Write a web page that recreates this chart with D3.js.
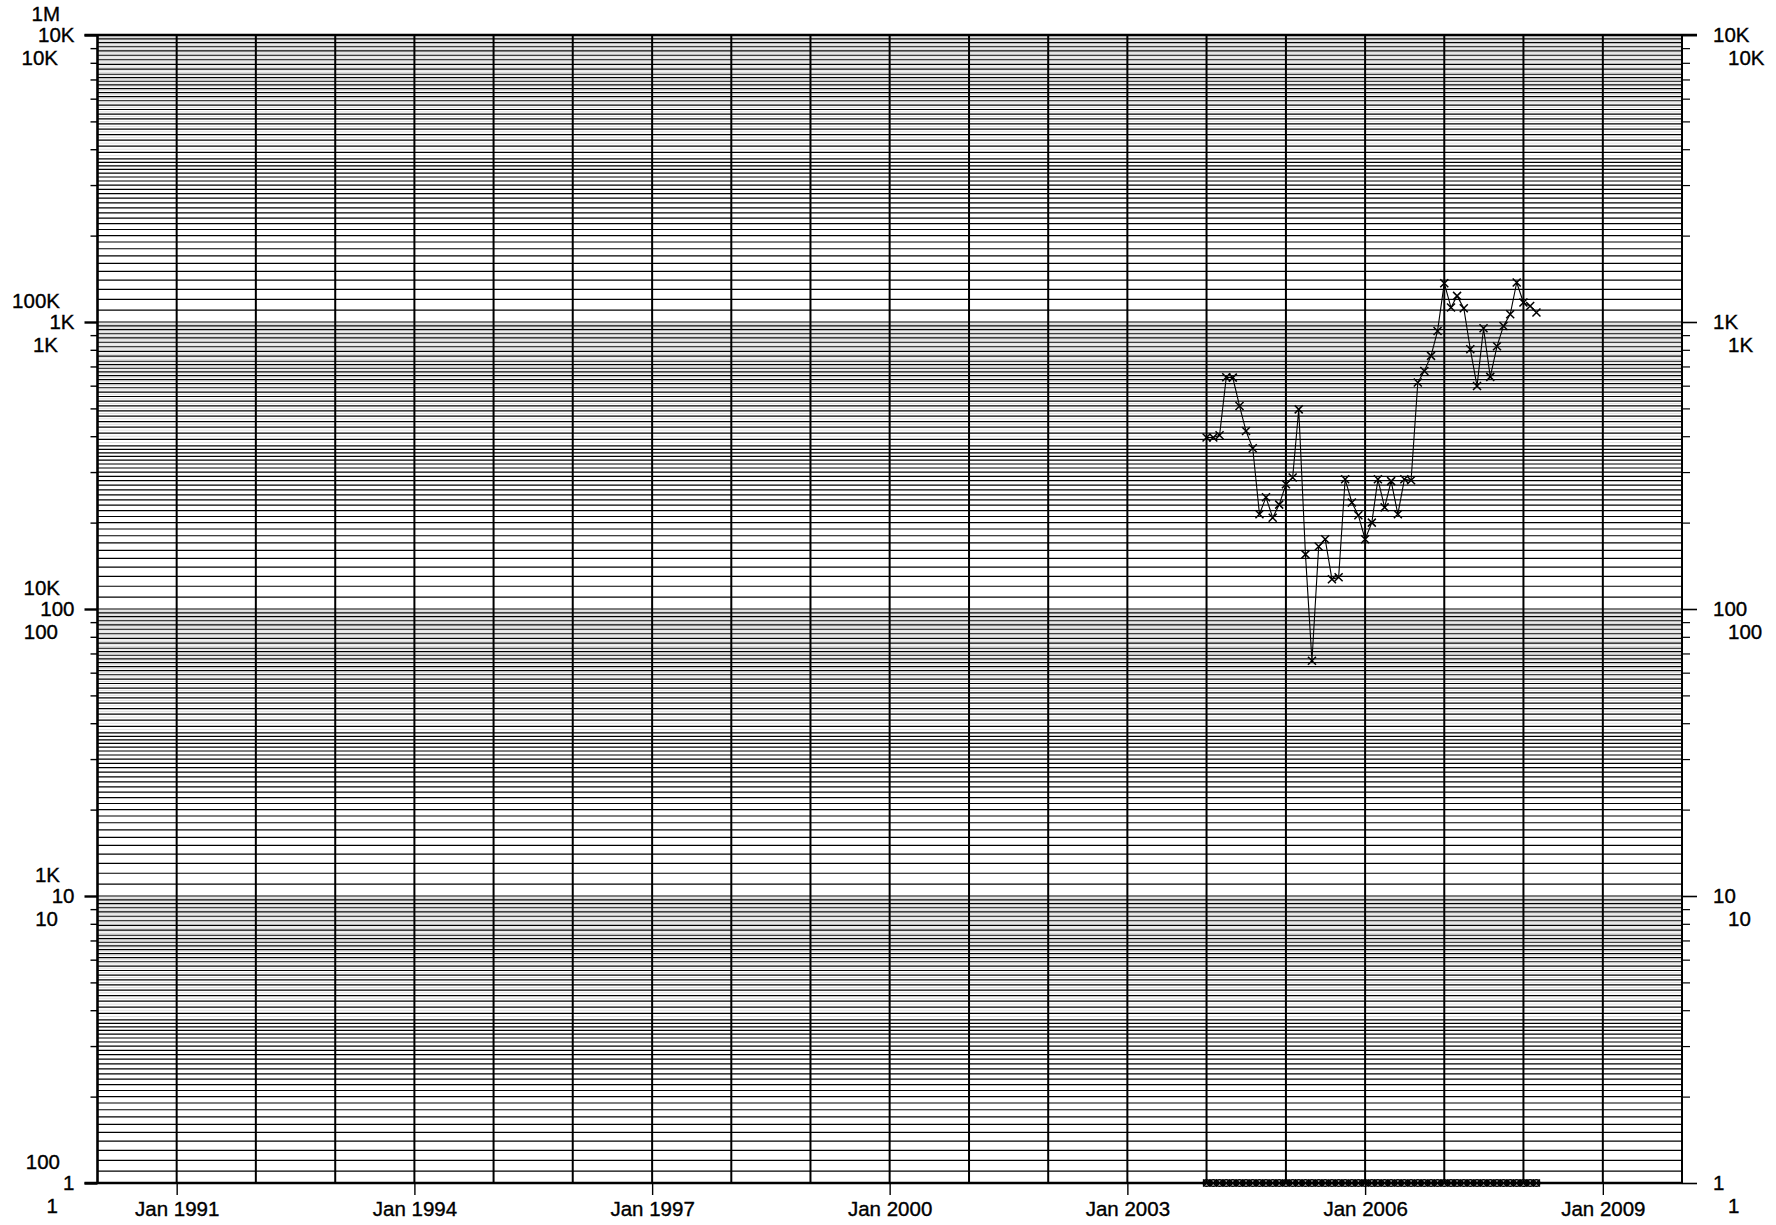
<!DOCTYPE html>
<html>
<head>
<meta charset="utf-8">
<script src="https://cdn.jsdelivr.net/npm/d3@7"></script>
<style>
  html, body { margin: 0; padding: 0; background: #fff; }
  svg { display: block; font-family: "Liberation Sans", Arial, sans-serif; }
</style>
</head>
<body>
<svg id="chart" width="1776" height="1225"></svg>
<script>
// months of the series, Jan 2004 .. Mar 2008
var months = [
  "2004-01","2004-02","2004-03","2004-04","2004-05","2004-06","2004-07","2004-08","2004-09","2004-10","2004-11","2004-12",
  "2005-01","2005-02","2005-03","2005-04","2005-05","2005-06","2005-07","2005-08","2005-09","2005-10","2005-11","2005-12",
  "2006-01","2006-02","2006-03","2006-04","2006-05","2006-06","2006-07","2006-08","2006-09","2006-10","2006-11","2006-12",
  "2007-01","2007-02","2007-03","2007-04","2007-05","2007-06","2007-07","2007-08","2007-09","2007-10","2007-11","2007-12",
  "2008-01","2008-02","2008-03"
];
// upper series (x markers)
var mainVals = [
  396, 396, 403, 642, 640, 510, 417, 363, 214, 245, 208, 231,
  272, 287, 496, 155, 66, 165, 175, 127, 129, 283, 235, 212,
  175, 200, 283, 226, 279, 214, 283, 281, 615, 675, 762, 931,
  1365, 1123, 1233, 1117, 804, 598, 951, 644, 823, 969, 1064, 1373,
  1169, 1137, 1079
];
// lower series sitting on the floor of the axis
var floorVals = [
  1,1,1,1,1,1,1,1,1,1,1,1,
  1,1,1,1,1,1,1,1,1,1,1,1,
  1,1,1,1,1,1,1,1,1,1,1,1,
  1,1,1,1,1,1,1,1,1,1,1,1,
  1,1,1
];

// tick labels
var decadeVals   = [10000, 1000, 100, 10, 1];
var decadeLabels = ["10K", "1K", "100", "10", "1"];
var outerVals    = [1000000, 100000, 10000, 1000, 100];
var outerLabels  = ["1M", "100K", "10K", "1K", "100"];
var xTickYears   = [1991, 1994, 1997, 2000, 2003, 2006, 2009];

var parseMonth = d3.timeParse("%Y-%m");
var svg = d3.select("#chart");

var plotL = 97.5, plotR = 1682, plotT = 35, plotB = 1183;

var x = d3.scaleTime()
  .domain([new Date(1990, 0, 1), new Date(2010, 0, 1)])
  .range([plotL, plotR]);
var y = d3.scaleLog().domain([1, 10000]).range([plotB, plotT]);
// the two extra label sets sit a little above / below the main one
var yOuter = d3.scaleLog().domain([100, 1000000]).range([plotB - 21, plotT - 21]);
var yLow = d3.scaleLog().domain([1, 10000]).range([plotB + 23, plotT + 23]);

// horizontal grid: every tenth step in each decade, thinned where they crowd
var gridVals = [];
for (var n = 0; n < 4; n++) {
  for (var k = 10; k < 100; k++) gridVals.push(k / 10 * Math.pow(10, n));
}
gridVals.push(10000);
var lastY = 1e9, gridKeep = [], gridSkip = [];
gridVals.forEach(function(v) {
  var yy = y(v);
  var isDecade = Math.abs(Math.log10(v) - Math.round(Math.log10(v))) < 1e-9;
  if (isDecade || lastY - yy >= 3.4) { gridKeep.push(v); lastY = yy; }
  else gridSkip.push(v);
});

var grid = svg.append("g").attr("class", "grid");
grid.selectAll("line.s").data(gridSkip).enter().append("line")
  .attr("class", "s")
  .attr("x1", plotL).attr("x2", plotR)
  .attr("y1", function(d) { return y(d); })
  .attr("y2", function(d) { return y(d); })
  .attr("stroke", "#aaa")
  .attr("stroke-width", 0.4);
grid.selectAll("line.h").data(gridKeep).enter().append("line")
  .attr("class", "h")
  .attr("x1", plotL).attr("x2", plotR)
  .attr("y1", function(d) { return y(d); })
  .attr("y2", function(d) { return y(d); })
  .attr("stroke", "#000")
  .attr("stroke-width", 1.2);

// yearly vertical grid
grid.selectAll("line.v").data(d3.timeYears(new Date(1990, 0, 1), new Date(2010, 0, 2))).enter().append("line")
  .attr("class", "v")
  .attr("x1", function(d) { return x(d); }).attr("x2", function(d) { return x(d); })
  .attr("y1", plotT).attr("y2", plotB)
  .attr("stroke", "#000")
  .attr("stroke-width", 2);

// frame
svg.append("line").attr("x1", plotL - 13).attr("x2", plotR + 15).attr("y1", plotT).attr("y2", plotT)
  .attr("stroke", "#000").attr("stroke-width", 2.4);
svg.append("line").attr("x1", plotL).attr("x2", plotL).attr("y1", plotT).attr("y2", plotB)
  .attr("stroke", "#000").attr("stroke-width", 2.2);
svg.append("line").attr("x1", plotR).attr("x2", plotR).attr("y1", plotT).attr("y2", plotB)
  .attr("stroke", "#000").attr("stroke-width", 1.6);

function styleAxis(g) {
  g.select(".domain").remove();
  g.selectAll("text").attr("font-size", 20.5).attr("fill", "#000")
    .attr("stroke", "#000").attr("stroke-width", 0.35)
    .attr("font-family", "'Liberation Sans', Arial, sans-serif");
  g.selectAll("line").attr("stroke", "#000");
}

var minorVals = [];
for (var m = 0; m < 4; m++) {
  for (var j = 2; j < 10; j++) minorVals.push(j * Math.pow(10, m));
}

// left axis: minor ticks, main ticks/labels, and the shifted label sets
svg.append("g").attr("transform", "translate(" + plotL + ",0)")
  .call(d3.axisLeft(y).tickValues(minorVals).tickSize(7).tickFormat(""))
  .call(styleAxis).selectAll("line").attr("stroke-width", 1.4);
svg.append("g").attr("transform", "translate(" + plotL + ",0)")
  .call(d3.axisLeft(y).tickValues(decadeVals).tickSize(13).tickPadding(10)
    .tickFormat(function(d, i) { return decadeLabels[i]; }))
  .call(styleAxis).selectAll("line").attr("stroke-width", 2.4);
svg.append("g").attr("transform", "translate(60,0)")
  .call(d3.axisLeft(yOuter).tickValues(outerVals).tickSize(0).tickPadding(0)
    .tickFormat(function(d, i) { return outerLabels[i]; }))
  .call(styleAxis);
svg.append("g").attr("transform", "translate(58,0)")
  .call(d3.axisLeft(yLow).tickValues(decadeVals).tickSize(0).tickPadding(0)
    .tickFormat(function(d, i) { return decadeLabels[i]; }))
  .call(styleAxis);

// right axis
svg.append("g").attr("transform", "translate(" + plotR + ",0)")
  .call(d3.axisRight(y).tickValues(minorVals).tickSize(8).tickFormat(""))
  .call(styleAxis).selectAll("line").attr("stroke-width", 1.2);
svg.append("g").attr("transform", "translate(" + plotR + ",0)")
  .call(d3.axisRight(y).tickValues(decadeVals).tickSize(15).tickPadding(16)
    .tickFormat(function(d, i) { return decadeLabels[i]; }))
  .call(styleAxis).selectAll("line").attr("stroke-width", 1.6);
svg.append("g").attr("transform", "translate(1728,0)")
  .call(d3.axisRight(yLow).tickValues(decadeVals).tickSize(0).tickPadding(0)
    .tickFormat(function(d, i) { return decadeLabels[i]; }))
  .call(styleAxis);

// bottom axis
svg.append("g").attr("transform", "translate(0," + plotB + ")")
  .call(d3.axisBottom(x).tickValues(xTickYears.map(function(yr) { return new Date(yr, 0, 1); }))
    .tickSize(12).tickPadding(6).tickFormat(d3.timeFormat("Jan %Y")))
  .call(styleAxis).selectAll("line").attr("stroke-width", 1.4);
svg.append("line").attr("x1", plotL - 13).attr("x2", plotR).attr("y1", plotB).attr("y2", plotB)
  .attr("stroke", "#000").attr("stroke-width", 2.4);

// series
var mainData = months.map(function(mo, i) { return { date: parseMonth(mo), v: mainVals[i] }; });
var floorData = months.map(function(mo, i) { return { date: parseMonth(mo), v: floorVals[i] }; });

var line = d3.line()
  .x(function(d) { return x(d.date); })
  .y(function(d) { return y(d.v); });

svg.append("path").datum(mainData)
  .attr("d", line).attr("fill", "none").attr("stroke", "#000").attr("stroke-width", 1.1);

function crosses(data, s, w) {
  var g = svg.append("g");
  g.selectAll("path").data(data).enter().append("path")
    .attr("d", function(d) {
      var cx = x(d.date), cy = y(d.v);
      return "M" + (cx - s) + "," + (cy - s) + "L" + (cx + s) + "," + (cy + s) +
             "M" + (cx - s) + "," + (cy + s) + "L" + (cx + s) + "," + (cy - s);
    })
    .attr("stroke", "#000").attr("stroke-width", w).attr("fill", "none");
}
crosses(mainData, 4, 1.5);

svg.append("path").datum(floorData)
  .attr("d", line).attr("fill", "none").attr("stroke", "#000").attr("stroke-width", 1.5);
svg.append("g").selectAll("circle").data(floorData).enter().append("circle")
  .attr("cx", function(d) { return x(d.date); })
  .attr("cy", function(d) { return y(d.v); })
  .attr("r", 3.3)
  .attr("fill", "none").attr("stroke", "#000").attr("stroke-width", 1.5);
crosses(floorData, 3.5, 1.6);
</script>
</body>
</html>
